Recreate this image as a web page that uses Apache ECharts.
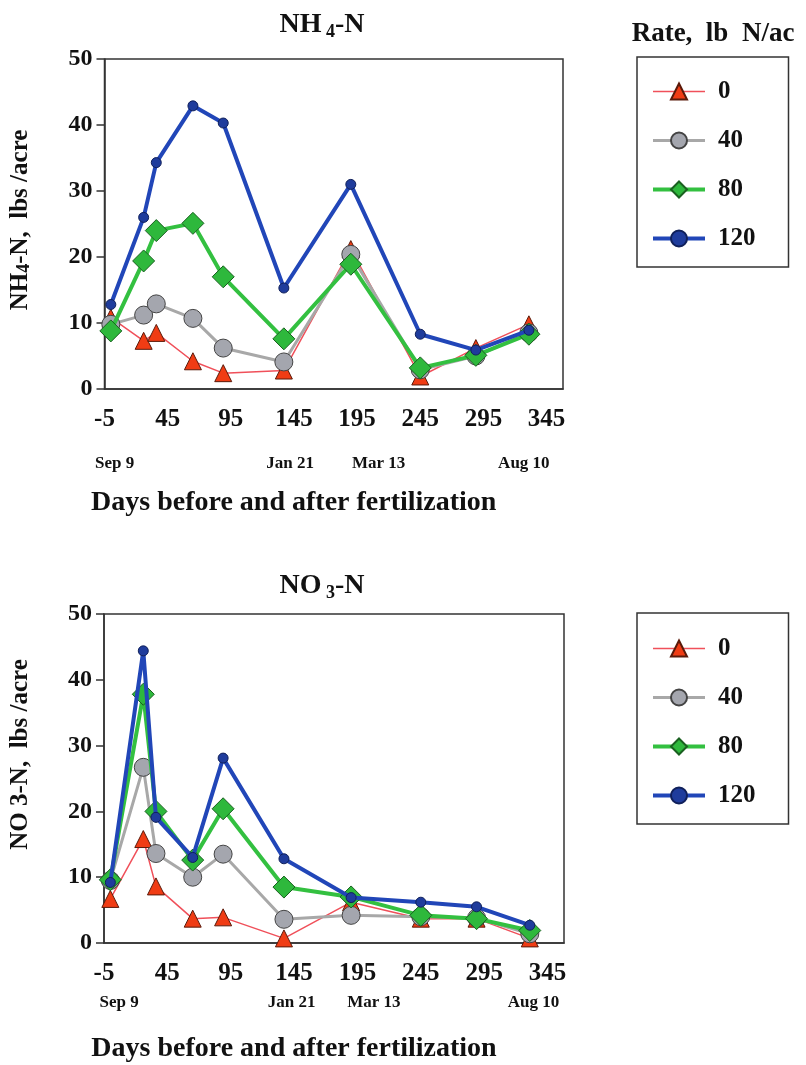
<!DOCTYPE html>
<html>
<head>
<meta charset="utf-8">
<script src="https://cdn.jsdelivr.net/npm/echarts@6/dist/echarts.min.js"></script>
<style>
  html, body { margin: 0; padding: 0; background: #fff; }
  #chart { width: 806px; height: 1065px; }
</style>
</head>
<body>
<div id="chart"></div>
<script>
const rates = ['0', '40', '80', '120']
const days = [0, 26, 36, 65, 89, 137, 190, 245, 289, 331]
const dayTicks = [-5, 45, 95, 145, 195, 245, 295, 345]

// NH4-N, lbs/acre
const nh4_0 = [10.8, 7.3, 8.5, 4.2, 2.4, 2.8, 21.2, 1.9, 6.2, 9.8]
const nh4_40 = [9.8, 11.2, 12.9, 10.7, 6.2, 4.1, 20.4, 2.9, 5.0, 8.5]
const nh4_80 = [8.8, 19.4, 24.0, 25.1, 17.0, 7.6, 18.9, 3.2, 5.1, 8.3]
const nh4_120 = [12.8, 26.0, 34.3, 42.9, 40.3, 15.3, 31.0, 8.3, 5.9, 8.9]

// NO3-N, lbs/acre
const no3_0 = [6.7, 15.8, 8.6, 3.7, 3.9, 0.7, 6.2, 3.7, 3.7, 0.7]
const no3_40 = [9.5, 26.7, 13.6, 10.0, 13.5, 3.6, 4.2, 4.0, 3.8, 1.4]
const no3_80 = [9.6, 37.8, 20.0, 12.6, 20.4, 8.5, 7.0, 4.2, 3.7, 1.9]
const no3_120 = [9.2, 44.4, 19.1, 13.0, 28.1, 12.8, 6.9, 6.2, 5.5, 2.7]

// calendar dates written under the day axis
const dateLabels = ['Sep 9', 'Jan 21', 'Mar 13', 'Aug 10']
const dateDaysTop = [3, 142, 212, 327]
const dateDaysBottom = [7, 143, 208, 334]

const serif = 'Liberation Serif'

const styles = [
  { symbol: 'triangle', symbolSize: 17, line: '#f0505a', lineWidth: 1.5, fill: '#f03c14', border: '#5a1a0a' },
  { symbol: 'circle', symbolSize: 18, line: '#a8a8a8', lineWidth: 3, fill: '#a4a6ae', border: '#444' },
  { symbol: 'diamond', symbolSize: 22, line: '#33c040', lineWidth: 4, fill: '#2eb83c', border: '#1a6020' },
  { symbol: 'circle', symbolSize: 10, line: '#2146b8', lineWidth: 4, fill: '#1f3c9c', border: '#10205a' },
]

function makeSeries(values, i, grid) {
  const s = styles[i]
  return {
    name: rates[i],
    type: 'line',
    xAxisIndex: grid * 2,
    yAxisIndex: grid,
    data: days.map((d, k) => [d, values[k]]),
    symbol: s.symbol,
    symbolSize: s.symbolSize,
    lineStyle: { color: s.line, width: s.lineWidth },
    itemStyle: { color: s.fill, borderColor: s.border, borderWidth: 1 },
    z: 2 + i,
    animation: false,
  }
}

function dayAxis(grid) {
  return {
    type: 'value',
    gridIndex: grid,
    min: -5,
    max: 358,
    axisLine: { show: true, onZero: false, lineStyle: { color: '#333', width: 1.5 } },
    axisTick: { show: false },
    splitLine: { show: false },
    axisLabel: {
      customValues: dayTicks,
      margin: 18,
      color: '#111',
      fontFamily: serif,
      fontWeight: 'bold',
      fontSize: 25,
    },
  }
}

function dateAxis(grid, dateDays, offset, nameGap) {
  return {
    type: 'value',
    gridIndex: grid,
    position: 'bottom',
    offset: offset,
    min: -5,
    max: 358,
    axisLine: { show: false, onZero: false },
    axisTick: { show: false },
    splitLine: { show: false },
    axisLabel: {
      customValues: dateDays,
      formatter: v => dateLabels[dateDays.indexOf(v)],
      color: '#111',
      fontFamily: serif,
      fontWeight: 'bold',
      fontSize: 17,
    },
    name: 'Days before and after fertilization',
    nameLocation: 'middle',
    nameGap: nameGap,
    nameTextStyle: { color: '#111', fontFamily: serif, fontWeight: 'bold', fontSize: 28, padding: [0, 80, 0, 0] },
  }
}

function amountAxis(grid, nameRich, shiftUp) {
  return {
    type: 'value',
    gridIndex: grid,
    min: 0,
    max: 50,
    interval: 10,
    axisLine: { show: true, onZero: false, lineStyle: { color: '#333', width: 1.5 } },
    axisTick: { show: true, length: 8, lineStyle: { color: '#333', width: 1.5 } },
    splitLine: { show: false },
    axisLabel: { color: '#111', fontFamily: serif, fontWeight: 'bold', fontSize: 24, margin: 12 },
    name: nameRich,
    nameLocation: 'middle',
    nameGap: 71,
    nameTextStyle: {
      color: '#111', fontFamily: serif, fontWeight: 'bold', fontSize: 25,
      padding: [0, 0, 0, shiftUp * 2],
      rich: {
        s: { fontFamily: serif, fontWeight: 'bold', fontSize: 18, padding: [8, 0, 0, 0] },
      },
    },
  }
}

function legendBox(top, padTop) {
  return {
    orient: 'vertical',
    left: 637,
    top: top,
    data: rates,
    itemWidth: 52,
    itemHeight: 20,
    itemGap: 24,
    padding: [padTop, 33, 16, 14],
    borderColor: '#333',
    borderWidth: 1.5,
    lineStyle: { width: 'inherit' },
    textStyle: { color: '#111', fontFamily: serif, fontWeight: 'bold', fontSize: 25, padding: [0, 0, 0, 8] },
    selectedMode: false,
  }
}

const chart = echarts.init(document.getElementById('chart'), null, { renderer: 'canvas' })

chart.setOption({
  backgroundColor: '#fff',
  animation: false,
  title: [
    {
      text: '{a|NH}{s| 4}{a|-N}',
      left: 317, top: 4, textAlign: 'center',
      textStyle: {
        rich: {
          a: { fontFamily: serif, fontSize: 28, color: '#111' },
          s: { fontFamily: serif, fontSize: 18, color: '#111', padding: [14, 0, 0, 0] },
        },
      },
    },
    {
      text: '{a|NO}{s| 3}{a|-N}',
      left: 317, top: 565, textAlign: 'center',
      textStyle: {
        rich: {
          a: { fontFamily: serif, fontSize: 28, color: '#111' },
          s: { fontFamily: serif, fontSize: 18, color: '#111', padding: [14, 0, 0, 0] },
        },
      },
    },
    {
      text: 'Rate,  lb  N/ac',
      left: 708, top: 16, textAlign: 'center',
      textStyle: { fontFamily: serif, fontWeight: 'bold', fontSize: 27, color: '#111' },
    },
  ],
  grid: [
    { left: 103, top: 59, width: 460, height: 330, show: true, borderColor: '#333', borderWidth: 1.5 },
    { left: 103, top: 614, width: 461, height: 329, show: true, borderColor: '#333', borderWidth: 1.5 },
  ],
  xAxis: [
    dayAxis(0),
    dateAxis(0, dateDaysTop, 58, 42),
    dayAxis(1),
    dateAxis(1, dateDaysBottom, 43, 49),
  ],
  yAxis: [
    amountAxis(0, 'NH{s|4}-N,  lbs /acre', 4),
    amountAxis(1, 'NO 3-N,  lbs /acre', 24),
  ],
  legend: [legendBox(57, 22), legendBox(613, 23)],
  series: [
    makeSeries(nh4_0, 0, 0),
    makeSeries(nh4_40, 1, 0),
    makeSeries(nh4_80, 2, 0),
    makeSeries(nh4_120, 3, 0),
    makeSeries(no3_0, 0, 1),
    makeSeries(no3_40, 1, 1),
    makeSeries(no3_80, 2, 1),
    makeSeries(no3_120, 3, 1),
  ],
})
</script>
</body>
</html>
